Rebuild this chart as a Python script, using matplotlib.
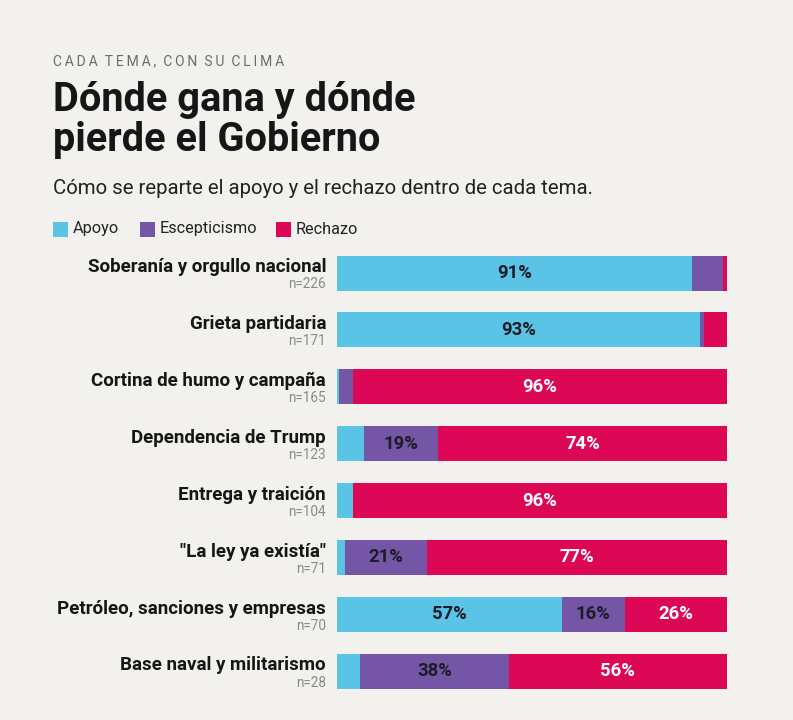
import matplotlib
matplotlib.use("Agg")
import matplotlib.pyplot as plt
import matplotlib.transforms as mtransforms
from matplotlib.patches import Rectangle
import numpy as np

plt.rcParams['font.family'] = ['Roboto', 'DejaVu Sans']

categories = ["Soberanía y orgullo nacional", "Grieta partidaria", "Cortina de humo y campaña",
              "Dependencia de Trump", "Entrega y traición", "\"La ley ya existía\"",
              "Petróleo, sanciones y empresas", "Base naval y militarismo"]
n_values = [226, 171, 165, 123, 104, 71, 70, 28]
apoyo = [91, 93, 0.5, 7, 4, 2, 57, 6]
escepticismo = [8, 1, 3.5, 19, 0, 21, 16, 38]
rechazo = [1, 6, 96, 74, 96, 77, 26, 56]
series_names = ["Apoyo", "Escepticismo", "Rechazo"]
colors = ["#5BC3E6", "#7555A6", "#DC0856"]
text_colors = ["#1b1d26", "#1b1d26", "#ffffff"]

BG = "#F2F1EE"
fig = plt.figure(figsize=(7.93, 7.2), dpi=100, facecolor=BG)

# header
kicker = "CADA TEMA, CON SU CLIMA"
spaced = "\u2002".join("\u2009".join(word) for word in kicker.split(" "))
fig.text(53/793, 1-61/720, spaced, fontsize=10, color="#6b6b6b", va="center", ha="left")
fig.text(53/793, 1-100/720, "Dónde gana y dónde", fontsize=28.6, fontweight="bold", color="#161616", va="center", ha="left")
fig.text(53/793, 1-140/720, "pierde el Gobierno", fontsize=28.6, fontweight="bold", color="#161616", va="center", ha="left")
fig.text(53/793, 1-189/720, "Cómo se reparte el apoyo y el rechazo dentro de cada tema.",
         fontsize=14.7, color="#222222", va="center", ha="left")

# legend
lx = 53
for name, c, off in zip(series_names, colors, [0, 87, 222.5]):
    x0 = (lx + off) / 793
    fig.patches.append(Rectangle((x0, 1-236.5/720), 15/793, 15/720, transform=fig.transFigure,
                                 facecolor=c, edgecolor="none"))
    fig.text(x0 + 20/793, 1-229/720, name, fontsize=11.7, color="#222222", va="center", ha="left")

ax = fig.add_axes([337/793, 1-699.6/720, 390/793, 455/720])
ax.set_facecolor(BG)
ax.set_xlim(0, 100)
ax.set_ylim(len(categories)-0.5, -0.5)
ax.axis("off")

data = np.array([apoyo, escepticismo, rechazo], dtype=float)
totals = data.sum(axis=0)
ypos = np.arange(len(categories))
bh = 0.615
left = np.zeros(len(categories))
for k in range(3):
    w = data[k] / totals * 100
    ax.barh(ypos, w, left=left, height=bh, color=colors[k], edgecolor="none")
    for i in range(len(categories)):
        if data[k][i] >= 10:
            ax.text(left[i] + w[i]/2, ypos[i], f"{data[k][i]:.0f}%", ha="center", va="center",
                    fontsize=13.3, fontweight="bold", color=text_colors[k])
    left += w

tr = mtransforms.blended_transform_factory(ax.transAxes, ax.transData)
for i, (cat, n) in enumerate(zip(categories, n_values)):
    ax.text(-11/390, i - 0.1, cat, transform=tr, ha="right", va="center",
            fontsize=13.5, fontweight="bold", color="#161616")
    ax.text(-11/390, i + 0.2, f"n={n}", transform=tr, ha="right", va="center",
            fontsize=9.8, color="#8a8a8a")

fig.savefig("out.png", dpi=100, facecolor=BG)
